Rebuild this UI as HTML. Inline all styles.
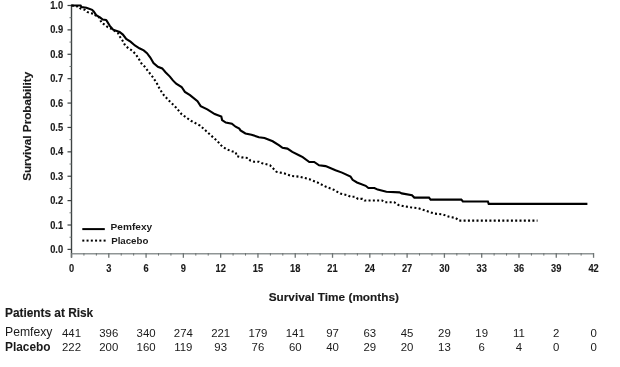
<!DOCTYPE html>
<html><head><meta charset="utf-8"><style>
html,body{margin:0;padding:0;background:#fff;width:620px;height:367px;overflow:hidden}
svg{display:block;will-change:transform}
text{font-family:"Liberation Sans",sans-serif;fill:#1a1a1a}
.b{font-weight:bold}
.r{font-weight:normal}
.th{stroke:#1a1a1a;stroke-width:0.3px}
.th2{stroke:#1a1a1a;stroke-width:0.15px}
</style></head><body>
<svg width="620" height="367" viewBox="0 0 620 367">
<line x1="71.5" y1="4.5" x2="71.5" y2="257.5" stroke="#3e4343" stroke-width="1.4"/>
<line x1="71.5" y1="253.7" x2="593.8599999999999" y2="253.7" stroke="#8f9595" stroke-width="1.5"/>
<line x1="67.5" y1="249.40" x2="71.5" y2="249.40" stroke="#3a3f3f" stroke-width="1.2"/>
<text transform="translate(63.1,252.90) scale(0.93,1)" text-anchor="end" class="b th2" font-size="10">0.0</text>
<line x1="67.5" y1="225.01" x2="71.5" y2="225.01" stroke="#3a3f3f" stroke-width="1.2"/>
<text transform="translate(63.1,228.51) scale(0.93,1)" text-anchor="end" class="b th2" font-size="10">0.1</text>
<line x1="67.5" y1="200.62" x2="71.5" y2="200.62" stroke="#3a3f3f" stroke-width="1.2"/>
<text transform="translate(63.1,204.12) scale(0.93,1)" text-anchor="end" class="b th2" font-size="10">0.2</text>
<line x1="67.5" y1="176.23" x2="71.5" y2="176.23" stroke="#3a3f3f" stroke-width="1.2"/>
<text transform="translate(63.1,179.73) scale(0.93,1)" text-anchor="end" class="b th2" font-size="10">0.3</text>
<line x1="67.5" y1="151.84" x2="71.5" y2="151.84" stroke="#3a3f3f" stroke-width="1.2"/>
<text transform="translate(63.1,155.34) scale(0.93,1)" text-anchor="end" class="b th2" font-size="10">0.4</text>
<line x1="67.5" y1="127.45" x2="71.5" y2="127.45" stroke="#3a3f3f" stroke-width="1.2"/>
<text transform="translate(63.1,130.95) scale(0.93,1)" text-anchor="end" class="b th2" font-size="10">0.5</text>
<line x1="67.5" y1="103.06" x2="71.5" y2="103.06" stroke="#3a3f3f" stroke-width="1.2"/>
<text transform="translate(63.1,106.56) scale(0.93,1)" text-anchor="end" class="b th2" font-size="10">0.6</text>
<line x1="67.5" y1="78.67" x2="71.5" y2="78.67" stroke="#3a3f3f" stroke-width="1.2"/>
<text transform="translate(63.1,82.17) scale(0.93,1)" text-anchor="end" class="b th2" font-size="10">0.7</text>
<line x1="67.5" y1="54.28" x2="71.5" y2="54.28" stroke="#3a3f3f" stroke-width="1.2"/>
<text transform="translate(63.1,57.78) scale(0.93,1)" text-anchor="end" class="b th2" font-size="10">0.8</text>
<line x1="67.5" y1="29.89" x2="71.5" y2="29.89" stroke="#3a3f3f" stroke-width="1.2"/>
<text transform="translate(63.1,33.39) scale(0.93,1)" text-anchor="end" class="b th2" font-size="10">0.9</text>
<line x1="67.5" y1="5.50" x2="71.5" y2="5.50" stroke="#3a3f3f" stroke-width="1.2"/>
<text transform="translate(63.1,9.00) scale(0.93,1)" text-anchor="end" class="b th2" font-size="10">1.0</text>
<line x1="69.5" y1="237.21" x2="71.5" y2="237.21" stroke="#6e7474" stroke-width="1"/>
<line x1="69.5" y1="212.81" x2="71.5" y2="212.81" stroke="#6e7474" stroke-width="1"/>
<line x1="69.5" y1="188.43" x2="71.5" y2="188.43" stroke="#6e7474" stroke-width="1"/>
<line x1="69.5" y1="164.04" x2="71.5" y2="164.04" stroke="#6e7474" stroke-width="1"/>
<line x1="69.5" y1="139.64" x2="71.5" y2="139.64" stroke="#6e7474" stroke-width="1"/>
<line x1="69.5" y1="115.25" x2="71.5" y2="115.25" stroke="#6e7474" stroke-width="1"/>
<line x1="69.5" y1="90.87" x2="71.5" y2="90.87" stroke="#6e7474" stroke-width="1"/>
<line x1="69.5" y1="66.47" x2="71.5" y2="66.47" stroke="#6e7474" stroke-width="1"/>
<line x1="69.5" y1="42.08" x2="71.5" y2="42.08" stroke="#6e7474" stroke-width="1"/>
<line x1="69.5" y1="17.69" x2="71.5" y2="17.69" stroke="#6e7474" stroke-width="1"/>
<line x1="71.50" y1="253" x2="71.50" y2="257.8" stroke="#6e7474" stroke-width="1.3"/>
<text transform="translate(71.50,271.8) scale(0.86,1)" text-anchor="middle" class="b th2" font-size="10.8">0</text>
<line x1="83.93" y1="253" x2="83.93" y2="255.6" stroke="#6e7474" stroke-width="1"/>
<line x1="96.36" y1="253" x2="96.36" y2="255.6" stroke="#6e7474" stroke-width="1"/>
<line x1="108.79" y1="253" x2="108.79" y2="257.8" stroke="#6e7474" stroke-width="1.3"/>
<text transform="translate(108.79,271.8) scale(0.86,1)" text-anchor="middle" class="b th2" font-size="10.8">3</text>
<line x1="121.22" y1="253" x2="121.22" y2="255.6" stroke="#6e7474" stroke-width="1"/>
<line x1="133.65" y1="253" x2="133.65" y2="255.6" stroke="#6e7474" stroke-width="1"/>
<line x1="146.08" y1="253" x2="146.08" y2="257.8" stroke="#6e7474" stroke-width="1.3"/>
<text transform="translate(146.08,271.8) scale(0.86,1)" text-anchor="middle" class="b th2" font-size="10.8">6</text>
<line x1="158.51" y1="253" x2="158.51" y2="255.6" stroke="#6e7474" stroke-width="1"/>
<line x1="170.94" y1="253" x2="170.94" y2="255.6" stroke="#6e7474" stroke-width="1"/>
<line x1="183.37" y1="253" x2="183.37" y2="257.8" stroke="#6e7474" stroke-width="1.3"/>
<text transform="translate(183.37,271.8) scale(0.86,1)" text-anchor="middle" class="b th2" font-size="10.8">9</text>
<line x1="195.80" y1="253" x2="195.80" y2="255.6" stroke="#6e7474" stroke-width="1"/>
<line x1="208.23" y1="253" x2="208.23" y2="255.6" stroke="#6e7474" stroke-width="1"/>
<line x1="220.66" y1="253" x2="220.66" y2="257.8" stroke="#6e7474" stroke-width="1.3"/>
<text transform="translate(220.66,271.8) scale(0.86,1)" text-anchor="middle" class="b th2" font-size="10.8">12</text>
<line x1="233.09" y1="253" x2="233.09" y2="255.6" stroke="#6e7474" stroke-width="1"/>
<line x1="245.52" y1="253" x2="245.52" y2="255.6" stroke="#6e7474" stroke-width="1"/>
<line x1="257.95" y1="253" x2="257.95" y2="257.8" stroke="#6e7474" stroke-width="1.3"/>
<text transform="translate(257.95,271.8) scale(0.86,1)" text-anchor="middle" class="b th2" font-size="10.8">15</text>
<line x1="270.38" y1="253" x2="270.38" y2="255.6" stroke="#6e7474" stroke-width="1"/>
<line x1="282.81" y1="253" x2="282.81" y2="255.6" stroke="#6e7474" stroke-width="1"/>
<line x1="295.24" y1="253" x2="295.24" y2="257.8" stroke="#6e7474" stroke-width="1.3"/>
<text transform="translate(295.24,271.8) scale(0.86,1)" text-anchor="middle" class="b th2" font-size="10.8">18</text>
<line x1="307.67" y1="253" x2="307.67" y2="255.6" stroke="#6e7474" stroke-width="1"/>
<line x1="320.10" y1="253" x2="320.10" y2="255.6" stroke="#6e7474" stroke-width="1"/>
<line x1="332.53" y1="253" x2="332.53" y2="257.8" stroke="#6e7474" stroke-width="1.3"/>
<text transform="translate(332.53,271.8) scale(0.86,1)" text-anchor="middle" class="b th2" font-size="10.8">21</text>
<line x1="344.96" y1="253" x2="344.96" y2="255.6" stroke="#6e7474" stroke-width="1"/>
<line x1="357.39" y1="253" x2="357.39" y2="255.6" stroke="#6e7474" stroke-width="1"/>
<line x1="369.82" y1="253" x2="369.82" y2="257.8" stroke="#6e7474" stroke-width="1.3"/>
<text transform="translate(369.82,271.8) scale(0.86,1)" text-anchor="middle" class="b th2" font-size="10.8">24</text>
<line x1="382.25" y1="253" x2="382.25" y2="255.6" stroke="#6e7474" stroke-width="1"/>
<line x1="394.68" y1="253" x2="394.68" y2="255.6" stroke="#6e7474" stroke-width="1"/>
<line x1="407.11" y1="253" x2="407.11" y2="257.8" stroke="#6e7474" stroke-width="1.3"/>
<text transform="translate(407.11,271.8) scale(0.86,1)" text-anchor="middle" class="b th2" font-size="10.8">27</text>
<line x1="419.54" y1="253" x2="419.54" y2="255.6" stroke="#6e7474" stroke-width="1"/>
<line x1="431.97" y1="253" x2="431.97" y2="255.6" stroke="#6e7474" stroke-width="1"/>
<line x1="444.40" y1="253" x2="444.40" y2="257.8" stroke="#6e7474" stroke-width="1.3"/>
<text transform="translate(444.40,271.8) scale(0.86,1)" text-anchor="middle" class="b th2" font-size="10.8">30</text>
<line x1="456.83" y1="253" x2="456.83" y2="255.6" stroke="#6e7474" stroke-width="1"/>
<line x1="469.26" y1="253" x2="469.26" y2="255.6" stroke="#6e7474" stroke-width="1"/>
<line x1="481.69" y1="253" x2="481.69" y2="257.8" stroke="#6e7474" stroke-width="1.3"/>
<text transform="translate(481.69,271.8) scale(0.86,1)" text-anchor="middle" class="b th2" font-size="10.8">33</text>
<line x1="494.12" y1="253" x2="494.12" y2="255.6" stroke="#6e7474" stroke-width="1"/>
<line x1="506.55" y1="253" x2="506.55" y2="255.6" stroke="#6e7474" stroke-width="1"/>
<line x1="518.98" y1="253" x2="518.98" y2="257.8" stroke="#6e7474" stroke-width="1.3"/>
<text transform="translate(518.98,271.8) scale(0.86,1)" text-anchor="middle" class="b th2" font-size="10.8">36</text>
<line x1="531.41" y1="253" x2="531.41" y2="255.6" stroke="#6e7474" stroke-width="1"/>
<line x1="543.84" y1="253" x2="543.84" y2="255.6" stroke="#6e7474" stroke-width="1"/>
<line x1="556.27" y1="253" x2="556.27" y2="257.8" stroke="#6e7474" stroke-width="1.3"/>
<text transform="translate(556.27,271.8) scale(0.86,1)" text-anchor="middle" class="b th2" font-size="10.8">39</text>
<line x1="568.70" y1="253" x2="568.70" y2="255.6" stroke="#6e7474" stroke-width="1"/>
<line x1="581.13" y1="253" x2="581.13" y2="255.6" stroke="#6e7474" stroke-width="1"/>
<line x1="593.56" y1="253" x2="593.56" y2="257.8" stroke="#6e7474" stroke-width="1.3"/>
<text transform="translate(593.56,271.8) scale(0.86,1)" text-anchor="middle" class="b th2" font-size="10.8">42</text>
<polyline points="72.0,5.5 73.3,5.7 74.9,6.5 78.2,6.1 80.6,8.6 84.7,9.8 87.2,11.9 90.0,13.1 94.5,13.9 96.2,16.4 99.4,17.6 101.5,22.9 104.4,24.5 107.6,27.0 110.9,28.6 114.5,30.8 118.0,33.0 119.8,36.5 122.9,41.2 125.1,45.5 128.3,48.2 132.7,51.0 136.1,54.8 138.3,58.1 141.5,63.5 144.8,66.8 148.1,71.2 152.4,76.6 156.5,82.6 159.8,89.2 164.2,95.7 169.6,101.2 176.2,107.7 181.6,114.2 190.9,120.8 200.0,125.5 206.1,131.0 212.3,136.6 217.2,140.9 222.1,146.4 227.0,149.4 231.9,151.3 235.8,152.5 236.8,156.2 241.7,157.4 247.9,158.0 250.3,160.5 254.0,161.7 258.9,161.7 262.2,163.2 270.0,165.3 276.5,171.8 284.7,173.5 291.3,175.9 299.5,176.7 309.3,179.2 317.5,182.5 325.6,186.6 333.8,189.8 340.4,193.6 347.2,195.1 350.5,196.7 354.8,196.7 358.1,198.9 362.4,198.9 364.6,200.5 382.1,200.5 385.3,202.2 394.1,202.2 398.4,204.9 402.8,206.0 410.4,207.3 418.2,208.2 424.7,210.3 434.5,213.6 442.7,214.4 449.3,216.8 455.8,218.0 459.1,220.6 537.5,220.6" fill="none" stroke="#000" stroke-width="2.1" stroke-dasharray="2 2.3"/>
<polyline points="71.2,5.5 80.6,5.5 81.5,7.0 86.4,7.8 92.1,9.8 93.7,11.5 96.2,15.1 100.3,17.6 102.7,19.6 106.0,20.0 106.5,20.4 109.8,25.9 113.1,29.7 119.6,31.9 122.9,34.6 126.2,39.0 130.5,41.7 134.9,45.5 139.4,48.3 143.7,50.4 147.0,53.2 150.3,57.5 153.5,63.0 157.9,66.8 162.2,68.4 165.5,72.2 169.9,76.6 172.9,80.4 176.2,83.7 181.6,87.0 184.9,91.9 190.0,95.2 197.5,101.2 200.7,106.1 207.3,109.4 214.7,114.1 221.3,116.5 222.1,120.0 225.8,122.5 231.9,123.7 235.6,126.7 239.3,128.6 240.5,130.4 245.4,133.5 251.5,134.7 258.9,137.2 264.5,138.0 272.7,141.3 279.2,145.3 282.5,147.8 287.4,148.6 292.3,151.9 299.5,155.5 302.7,157.1 309.3,162.0 314.2,162.0 319.1,165.3 325.6,166.1 335.5,170.2 342.0,172.6 350.5,176.5 352.6,179.8 357.0,182.5 365.7,185.8 368.4,188.0 374.4,188.0 377.7,189.6 386.4,191.8 399.5,192.4 401.7,193.4 412.0,195.3 414.3,197.6 429.0,197.6 430.6,199.6 461.3,199.6 462.9,201.5 487.9,201.5 488.7,203.9 587.4,203.9" fill="none" stroke="#000" stroke-width="2.1" stroke-linejoin="miter"/>
<line x1="82.3" y1="229.1" x2="104.8" y2="229.1" stroke="#000" stroke-width="2"/>
<text transform="translate(110.6,230.4) scale(1.1,1)" class="b" font-size="9.2">Pemfexy</text>
<rect x="82.30" y="239.6" width="2" height="2" fill="#000"/>
<rect x="86.56" y="239.6" width="2" height="2" fill="#000"/>
<rect x="90.82" y="239.6" width="2" height="2" fill="#000"/>
<rect x="95.08" y="239.6" width="2" height="2" fill="#000"/>
<rect x="99.34" y="239.6" width="2" height="2" fill="#000"/>
<rect x="103.60" y="239.6" width="2" height="2" fill="#000"/>
<text x="111.2" y="244.2" class="b" font-size="9.7">Placebo</text>
<text x="0" y="0" class="b th2" font-size="11.7" text-anchor="middle" transform="translate(30.9,126.3) rotate(-90)">Survival Probability</text>
<text x="333.8" y="301.2" class="b th2" font-size="11.8" text-anchor="middle">Survival Time (months)</text>
<text x="5" y="316.6" class="b th2" font-size="11.85">Patients at Risk</text>
<text x="5" y="336.3" class="r" font-size="12.2">Pemfexy</text>
<text x="5" y="351" class="b" font-size="11.9">Placebo</text>
<text x="71.50" y="336.5" text-anchor="middle" class="r" font-size="11.4">441</text>
<text x="71.50" y="351.2" text-anchor="middle" class="r" font-size="11.4">222</text>
<text x="108.79" y="336.5" text-anchor="middle" class="r" font-size="11.4">396</text>
<text x="108.79" y="351.2" text-anchor="middle" class="r" font-size="11.4">200</text>
<text x="146.08" y="336.5" text-anchor="middle" class="r" font-size="11.4">340</text>
<text x="146.08" y="351.2" text-anchor="middle" class="r" font-size="11.4">160</text>
<text x="183.37" y="336.5" text-anchor="middle" class="r" font-size="11.4">274</text>
<text x="183.37" y="351.2" text-anchor="middle" class="r" font-size="11.4">119</text>
<text x="220.66" y="336.5" text-anchor="middle" class="r" font-size="11.4">221</text>
<text x="220.66" y="351.2" text-anchor="middle" class="r" font-size="11.4">93</text>
<text x="257.95" y="336.5" text-anchor="middle" class="r" font-size="11.4">179</text>
<text x="257.95" y="351.2" text-anchor="middle" class="r" font-size="11.4">76</text>
<text x="295.24" y="336.5" text-anchor="middle" class="r" font-size="11.4">141</text>
<text x="295.24" y="351.2" text-anchor="middle" class="r" font-size="11.4">60</text>
<text x="332.53" y="336.5" text-anchor="middle" class="r" font-size="11.4">97</text>
<text x="332.53" y="351.2" text-anchor="middle" class="r" font-size="11.4">40</text>
<text x="369.82" y="336.5" text-anchor="middle" class="r" font-size="11.4">63</text>
<text x="369.82" y="351.2" text-anchor="middle" class="r" font-size="11.4">29</text>
<text x="407.11" y="336.5" text-anchor="middle" class="r" font-size="11.4">45</text>
<text x="407.11" y="351.2" text-anchor="middle" class="r" font-size="11.4">20</text>
<text x="444.40" y="336.5" text-anchor="middle" class="r" font-size="11.4">29</text>
<text x="444.40" y="351.2" text-anchor="middle" class="r" font-size="11.4">13</text>
<text x="481.69" y="336.5" text-anchor="middle" class="r" font-size="11.4">19</text>
<text x="481.69" y="351.2" text-anchor="middle" class="r" font-size="11.4">6</text>
<text x="518.98" y="336.5" text-anchor="middle" class="r" font-size="11.4">11</text>
<text x="518.98" y="351.2" text-anchor="middle" class="r" font-size="11.4">4</text>
<text x="556.27" y="336.5" text-anchor="middle" class="r" font-size="11.4">2</text>
<text x="556.27" y="351.2" text-anchor="middle" class="r" font-size="11.4">0</text>
<text x="593.56" y="336.5" text-anchor="middle" class="r" font-size="11.4">0</text>
<text x="593.56" y="351.2" text-anchor="middle" class="r" font-size="11.4">0</text>
</svg>
</body></html>
